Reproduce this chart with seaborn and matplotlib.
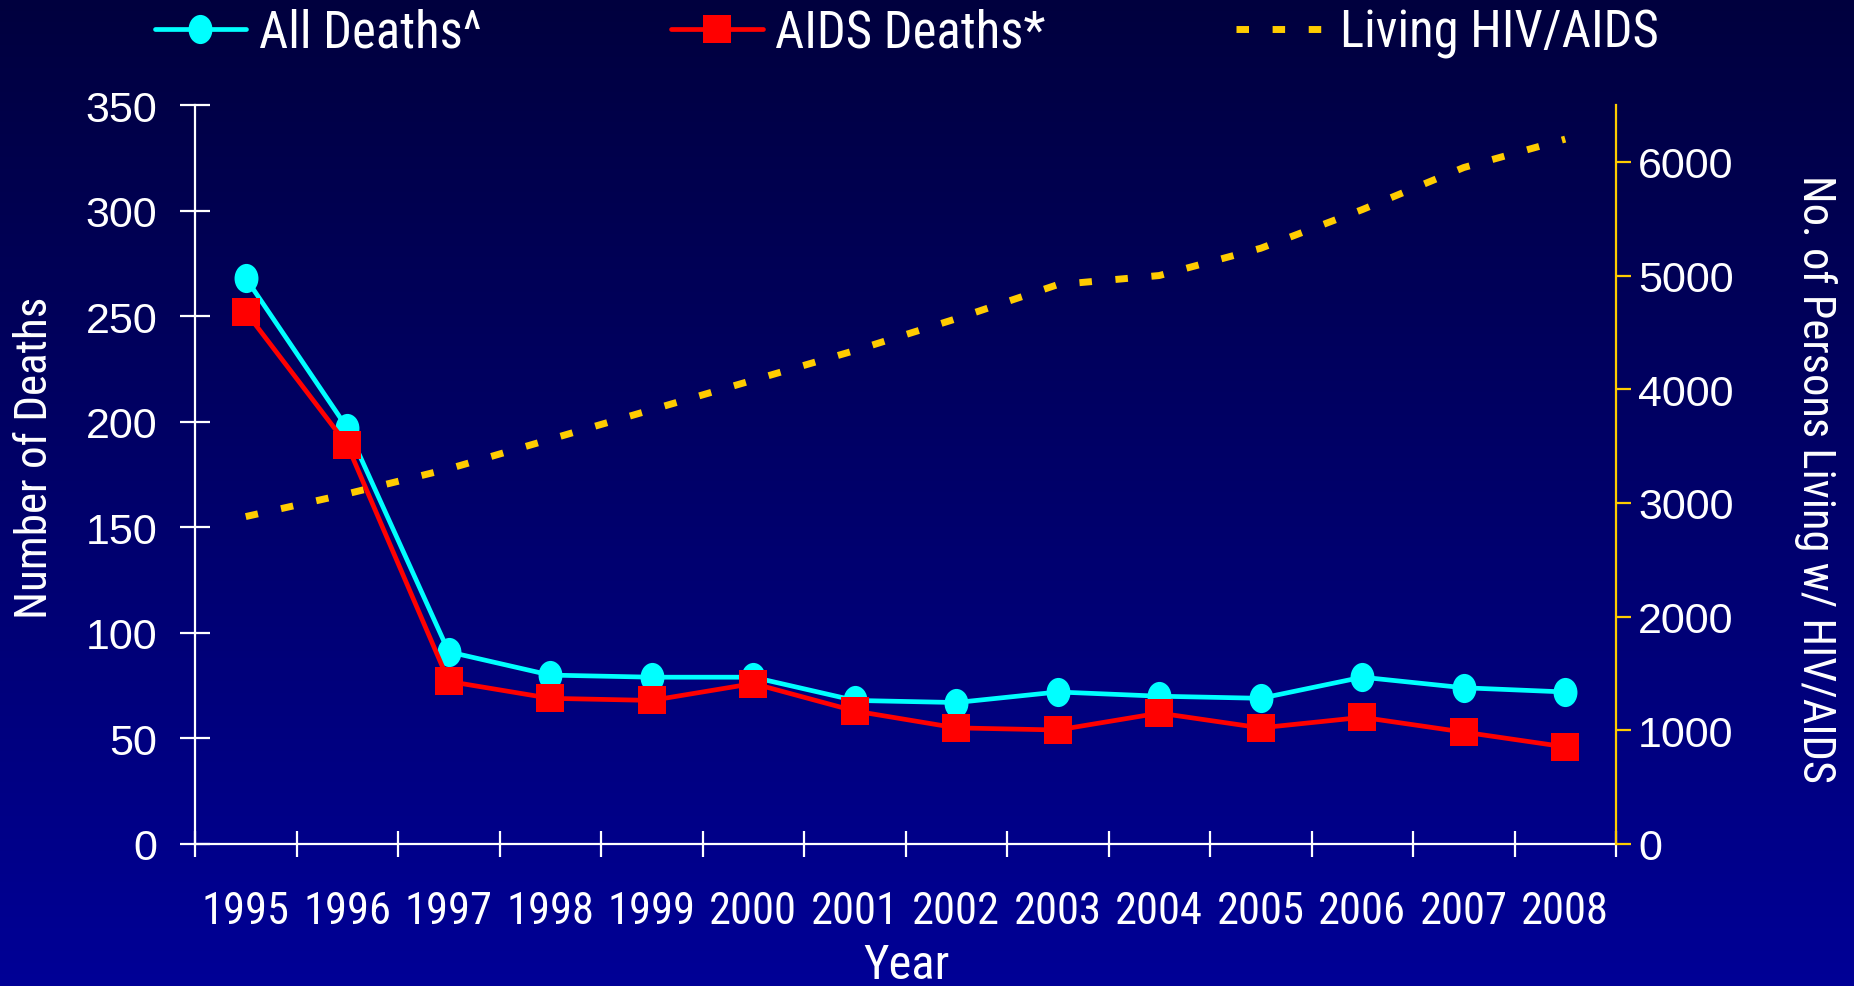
import numpy as np
import matplotlib
matplotlib.use("Agg")
import matplotlib.pyplot as plt
import seaborn as sns
from matplotlib import font_manager as fm
from matplotlib.path import Path
from matplotlib.lines import Line2D
from matplotlib.ticker import FixedLocator, NullFormatter, FixedFormatter

# ---- data ----
years = [1995, 1996, 1997, 1998, 1999, 2000, 2001, 2002, 2003, 2004, 2005, 2006, 2007, 2008]
year_labels = [str(y) for y in years]
all_deaths = [268, 197, 91, 80, 79, 79, 68, 67, 72, 70, 69, 79, 74, 72]
aids_deaths = [252, 189, 77, 69, 68, 76, 63, 55, 54, 62, 55, 60, 53, 46]
living = [2880, 3080, 3300, 3560, 3820, 4080, 4340, 4620, 4920, 5000, 5240, 5580, 5950, 6200]
left_ticks = [0, 50, 100, 150, 200, 250, 300, 350]
right_ticks = [0, 1000, 2000, 3000, 4000, 5000, 6000]
series_names = ["All Deaths^", "AIDS Deaths*", "Living HIV/AIDS"]

CYAN = "#00FFFF"
RED = "#FF0000"
GOLD = "#FFCC00"

available = {f.name for f in fm.fontManager.ttflist}
def pick(prefs):
    for p in prefs:
        if p in available:
            return p
    return "DejaVu Sans"

NARROW = [pick(["Arial Narrow", "Liberation Sans Narrow", "Roboto Condensed",
                "PT Sans Narrow", "Archivo Narrow", "Barlow Condensed"]), "DejaVu Sans"]
REGULAR = [pick(["Arial", "Liberation Sans", "Arimo"]), "DejaVu Sans"]

sns.set_theme(style="white")
plt.rcParams["font.family"] = NARROW

W, H = 1854, 987
fig = plt.figure(figsize=(W / 100, H / 100), dpi=100)

# background gradient
bg = fig.add_axes([0, 0, 1, 1], zorder=-10)
n = 256
img = np.zeros((n, 1, 3))
img[:, 0, 2] = np.linspace(62, 150, n) / 255.0
bg.imshow(img, aspect="auto", extent=[0, 1, 0, 1], origin="upper")
bg.set_axis_off()

left, right = 195 / W, 1616 / W
bottom, top = 1 - 845 / H, 1 - 106 / H
ax = fig.add_axes([left, bottom, right - left, top - bottom])
ax.patch.set_alpha(0)

# elongated circle marker
circ = Path.unit_circle()
ellipse = Path(circ.vertices * np.array([0.82, 1.0]), circ.codes)

sns.lineplot(x=years, y=all_deaths, ax=ax, color=CYAN, lw=3.4, marker=ellipse,
             markersize=21, markeredgewidth=0, legend=False)
sns.lineplot(x=years, y=aids_deaths, ax=ax, color=RED, lw=3.4, marker="s",
             markersize=19.5, markeredgewidth=0, legend=False)

ax.set_xlim(years[0] - 0.5, years[-1] + 0.5)
ax.set_ylim(0, 350)
ax.set_xlabel("")
ax.set_ylabel("")
for s in ["top", "right"]:
    ax.spines[s].set_visible(False)
for s in ["left", "bottom"]:
    ax.spines[s].set_color("white")
    ax.spines[s].set_linewidth(1.6)

ax.xaxis.set_major_locator(FixedLocator(np.arange(years[0] - 0.5, years[-1] + 1, 1.0)))
ax.xaxis.set_major_formatter(NullFormatter())
ax.xaxis.set_minor_locator(FixedLocator(years))
ax.xaxis.set_minor_formatter(FixedFormatter(year_labels))
ax.tick_params(axis="x", which="major", direction="inout", length=19, width=1.6,
               color="white", bottom=True)
ax.tick_params(axis="x", which="minor", length=0, pad=33, labelsize=32,
               labelcolor="white", bottom=True)

ax.set_yticks(left_ticks)
ax.tick_params(axis="y", direction="inout", length=22, width=1.6, color="white",
               labelsize=31, labelcolor="white", pad=16, left=True)
for lbl in ax.get_yticklabels():
    lbl.set_family(REGULAR)

# right axis
ax2 = ax.twinx()
ax2.patch.set_alpha(0)
sns.lineplot(x=years, y=living, ax=ax2, color=GOLD, lw=5,
             linestyle=(0, (1.8, 3.4)), legend=False)
ax2.set_ylim(0, 6500)
ax2.set_xlim(years[0] - 0.5, years[-1] + 0.5)
ax2.set_ylabel("")
ax2.set_xlabel("")
for s in ["top", "left", "bottom"]:
    ax2.spines[s].set_visible(False)
ax2.spines["right"].set_color(GOLD)
ax2.spines["right"].set_linewidth(1.6)
ax2.set_yticks(right_ticks)
ax2.tick_params(axis="y", direction="out", length=11, width=1.6, color=GOLD,
                labelcolor="white", labelsize=31, pad=5, right=True)
for lbl in ax2.get_yticklabels():
    lbl.set_family(REGULAR)
ax2.tick_params(axis="x", which="both", bottom=False, labelbottom=False)

# axis titles
fig.text(35 / W, 1 - 458 / H, "Number of Deaths", rotation=90, ha="center", va="center",
         color="white", fontsize=32.5)
fig.text(1815 / W, 1 - 479 / H, "No. of Persons Living w/ HIV/AIDS", rotation=270,
         ha="center", va="center", color="white", fontsize=32)
fig.text(907 / W, 8 / H, "Year", ha="center", va="baseline", color="white", fontsize=35)

# legend
handles = [
    Line2D([], [], color=CYAN, lw=3.4, marker=ellipse, markersize=21, markeredgewidth=0),
    Line2D([], [], color=RED, lw=3.4, marker="s", markersize=19.5, markeredgewidth=0),
    Line2D([], [], color=GOLD, lw=5, linestyle=(0, (1.8, 3.4))),
]
fig.legend(handles, series_names, loc="center", bbox_to_anchor=(0.489, 0.966), ncol=3,
           frameon=False, fontsize=36.5, handlelength=1.8, handletextpad=0.25,
           columnspacing=3.75, labelcolor="white", borderaxespad=0, borderpad=0)

fig.savefig("out.png", dpi=100)
